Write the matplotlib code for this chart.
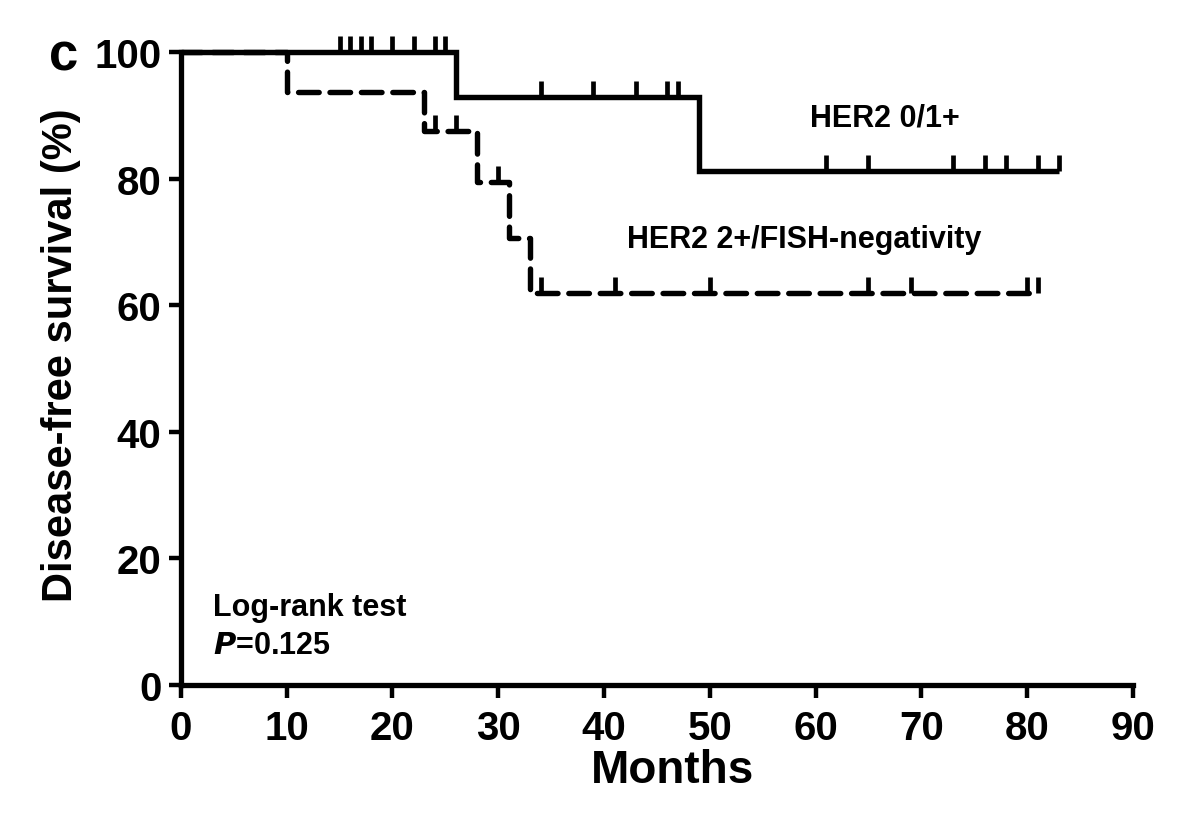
import matplotlib
matplotlib.use("Agg")
import matplotlib.pyplot as plt

plt.rcParams['font.family'] = ['Liberation Sans', 'DejaVu Sans']
plt.rcParams['font.weight'] = 'bold'

# HER2 0/1+ (solid) step curve
solid_t = [0, 26, 49, 83]
solid_s = [100, 92.9, 81.25, 81.25]
solid_cens_t = [15, 16, 17, 18, 20, 22, 24, 25, 34, 39, 43, 46, 47, 61, 65, 73, 76, 78, 81, 83]
solid_cens_s = [100]*8 + [92.9]*5 + [81.25]*7

# HER2 2+/FISH-negativity (dashed) step curve
dash_t = [0, 10, 23, 28, 31, 33, 81]
dash_s = [100, 93.75, 87.5, 79.5, 70.7, 61.9, 61.9]
dash_cens_t = [24, 26, 30, 34, 41, 50, 65, 69, 80, 81]
dash_cens_s = [87.5, 87.5, 79.5, 61.9, 61.9, 61.9, 61.9, 61.9, 61.9, 61.9]

x_ticks = [0, 10, 20, 30, 40, 50, 60, 70, 80, 90]
y_ticks = [0, 20, 40, 60, 80, 100]

fig = plt.figure(figsize=(11.85, 8.29), dpi=100)
ax = fig.add_axes([0.1527, 0.1725, 0.8033, 0.7635])

lw = 3.9
ax.step(solid_t, solid_s, where='post', color='black', lw=lw, clip_on=False,
        solid_capstyle='butt', solid_joinstyle='miter', zorder=3)
ax.step(dash_t, dash_s, where='post', color='black', lw=lw, clip_on=False,
        linestyle=(0, (3.8, 2.0)), dash_capstyle='round', zorder=3)

tick_h = 2.5
ax.vlines(solid_cens_t, solid_cens_s, [s + tick_h for s in solid_cens_s],
          color='black', lw=3.4, clip_on=False, zorder=3)
ax.vlines(dash_cens_t, dash_cens_s, [s + tick_h for s in dash_cens_s],
          color='black', lw=3.4, clip_on=False, zorder=3)

ax.set_xlim(0, 90)
ax.set_ylim(0, 100)
ax.set_xticks(x_ticks)
ax.set_yticks(y_ticks)
ax.tick_params(axis='both', direction='out', width=3.2, length=9, labelsize=29)
ax.tick_params(axis='x', pad=8)
ax.tick_params(axis='y', pad=5)
for lab in ax.get_xticklabels() + ax.get_yticklabels():
    lab.set_fontweight('bold')

for sp in ['top', 'right']:
    ax.spines[sp].set_visible(False)
for sp in ['left', 'bottom']:
    ax.spines[sp].set_linewidth(3.8)

ax.set_xlabel('Months', fontsize=33, fontweight='bold')
ax.set_ylabel('Disease-free survival (%)', fontsize=30, fontweight='bold')
ax.xaxis.set_label_coords(0.516, -0.1)
ax.yaxis.set_label_coords(-0.105, 0.523)

ax.text(59.5, 89.7, 'HER2 0/1+', fontsize=22, fontweight='bold', va='center', ha='left')
ax.text(42.2, 70.4, 'HER2 2+/FISH-negativity', fontsize=22, fontweight='bold', va='center', ha='left')
ax.text(3.0, 12.3, 'Log-rank test', fontsize=22, fontweight='bold', va='center', ha='left')
ax.text(3.0, 6.3, r'$\bf{\it{P}}$=0.125', fontsize=22, fontweight='bold', va='center', ha='left')

fig.text(0.041, 0.932, 'c', fontsize=38, fontweight='bold', va='center', ha='left')

fig.savefig('out.png', dpi=100, facecolor='white')
